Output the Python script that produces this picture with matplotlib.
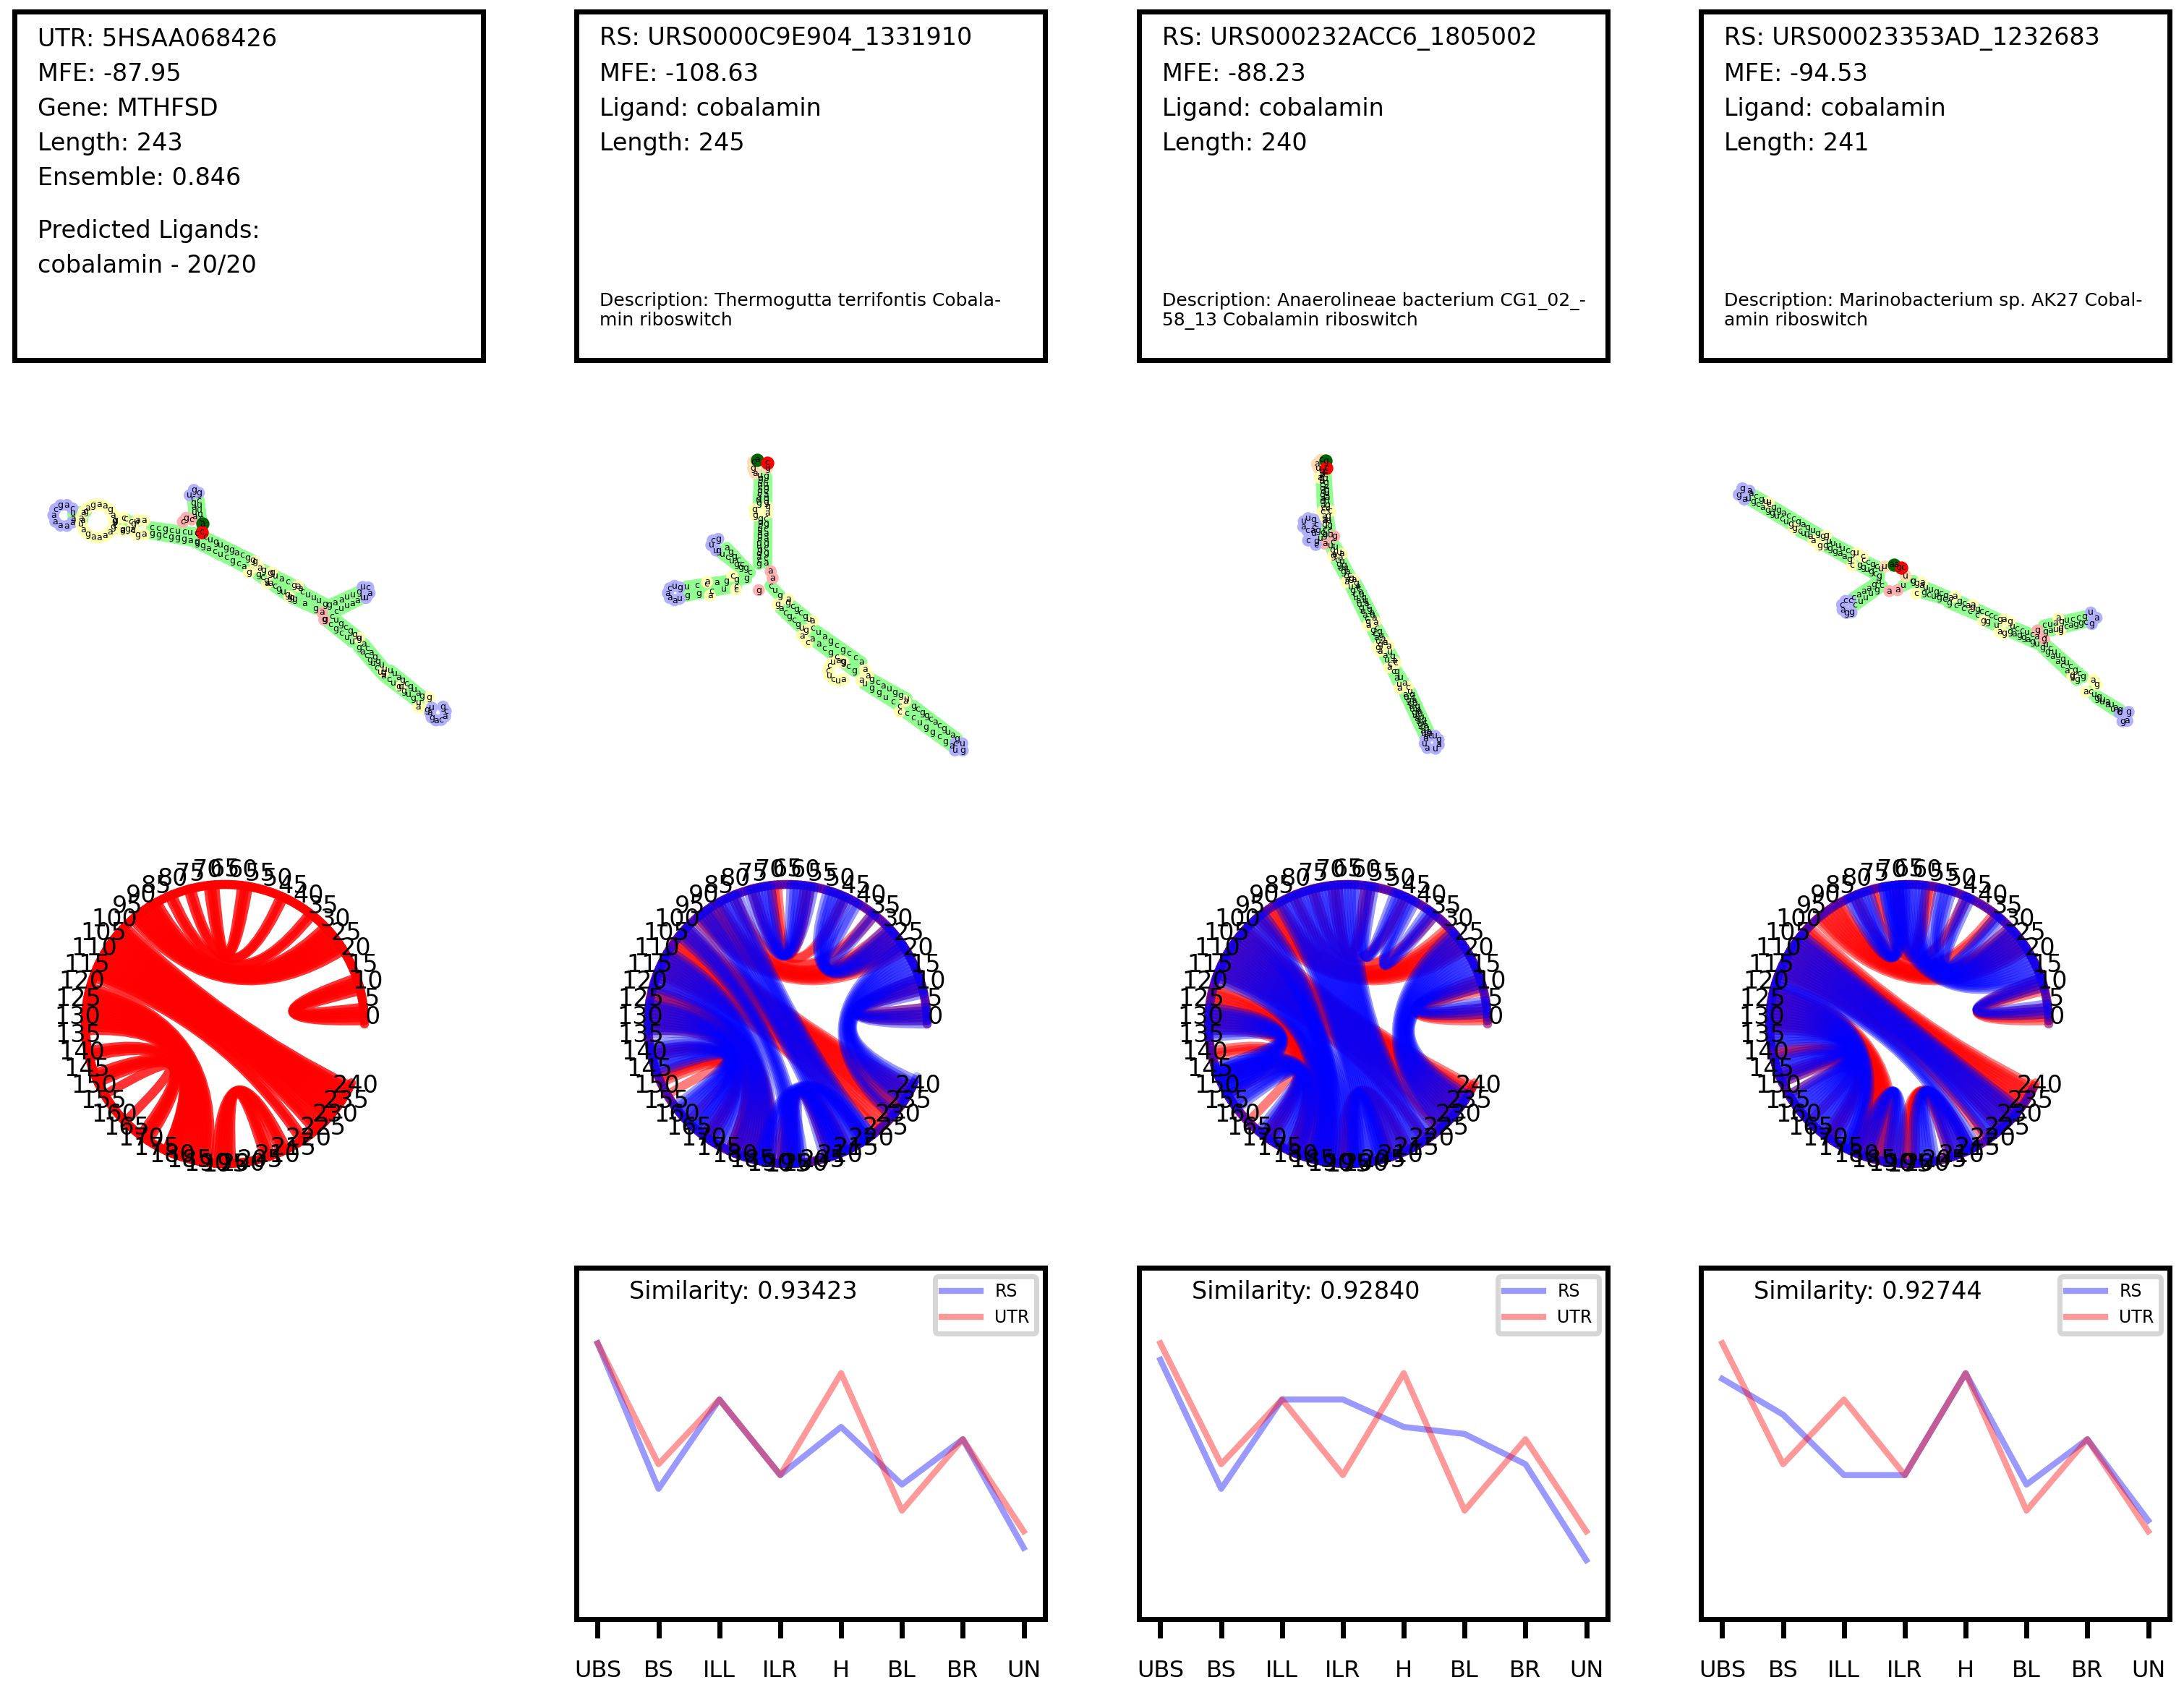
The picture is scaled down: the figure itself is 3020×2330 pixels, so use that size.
import numpy as np
import matplotlib
matplotlib.use("Agg")
import matplotlib.pyplot as plt
from matplotlib.path import Path
from matplotlib.patches import PathPatch

W, H = 3020, 2330
COL_X = [20, 797, 1575, 2352]
BOX_W = 648

# info boxes
info_lines = [
    ["UTR: 5HSAA068426", "MFE: -87.95", "Gene: MTHFSD", "Length: 243", "Ensemble: 0.846"],
    ["RS: URS0000C9E904_1331910", "MFE: -108.63", "Ligand: cobalamin", "Length: 245"],
    ["RS: URS000232ACC6_1805002", "MFE: -88.23", "Ligand: cobalamin", "Length: 240"],
    ["RS: URS00023353AD_1232683", "MFE: -94.53", "Ligand: cobalamin", "Length: 241"],
]
predicted = ["Predicted Ligands:", "cobalamin - 20/20"]
descriptions = [
    None,
    ["Description: Thermogutta terrifontis Cobala-", "min riboswitch"],
    ["Description: Anaerolineae bacterium CG1_02_-", "58_13 Cobalamin riboswitch"],
    ["Description: Marinobacterium sp. AK27 Cobal-", "amin riboswitch"],
]

# line panels
categories = ["UBS", "BS", "ILL", "ILR", "H", "BL", "BR", "UN"]
utr_profile = [0.785, 0.441, 0.625, 0.410, 0.700, 0.309, 0.512, 0.250]
rs_profile_1 = [0.785, 0.371, 0.625, 0.410, 0.547, 0.383, 0.512, 0.203]
rs_profile_2 = [0.738, 0.371, 0.625, 0.625, 0.547, 0.527, 0.441, 0.168]
rs_profile_3 = [0.684, 0.582, 0.410, 0.410, 0.700, 0.383, 0.512, 0.281]
similarity = ["0.93423", "0.92840", "0.92744"]

# base pair helices: (i, j, n) means i+k pairs with j-k
lengths = [243, 245, 240, 241]
circle_ticks = list(range(0, 241, 5))
utr_helices = [(1, 14, 5), (23, 95, 10), (37, 82, 2), (47, 76, 2), (58, 70, 3),
               (98, 241, 14), (112, 226, 3), (115, 220, 2),
               (119, 190, 7), (126, 183, 7), (138, 179, 3), (145, 171, 4), (152, 162, 1),
               (192, 214, 3), (195, 209, 3)]
rs1_helices = [(0, 14, 6), (14, 243, 9), (23, 232, 3), (25, 53, 8), (37, 44, 2),
               (57, 77, 8), (80, 222, 8), (89, 214, 6), (97, 200, 6), (107, 190, 14),
               (123, 175, 11), (136, 165, 10), (186, 222, 5), (192, 213, 8)]
rs2_helices = [(3, 15, 5), (16, 238, 10), (26, 228, 5), (37, 47, 4), (48, 60, 4),
               (62, 222, 14), (76, 208, 8), (84, 200, 4), (92, 191, 8), (100, 197, 18),
               (125, 152, 10), (143, 180, 15), (196, 207, 4)]
rs3_helices = [(3, 14, 4), (14, 73, 14), (28, 56, 5), (35, 48, 3), (66, 84, 8),
               (101, 233, 14), (115, 216, 4), (118, 178, 4), (122, 176, 16),
               (140, 160, 9), (178, 193, 7), (196, 214, 8)]

# structure drawings: strands and single beads in crop coordinates
# stem strand: (kind, x0, y0, x1, y1, letters); loop: (kind, cx, cy, r, a0, a1, letters)
crop_12 = (0, 560, 1500, 500, 1.037, 2.98)
struct_1_lines = [
    ("s", 105, 445, 123, 440, "ug"), ("s", 105, 470, 118, 475, "aa"),
    ("s", 165, 475, 180, 470, "gc"), ("s", 165, 497, 175, 515, "cg"),
    ("s", 187, 482, 196, 480, "cu"), ("s", 183, 510, 190, 515, "ga"),
    ("s", 218, 505, 282, 530, "ccgcucuc"), ("s", 218, 530, 282, 562, "ggcgggag"),
    ("s", 277, 385, 279, 460, "cgaua"), ("s", 285, 395, 288, 470, "cuuuc"),
    ("s", 294, 545, 362, 640, "cuguggacgg"), ("s", 282, 568, 350, 665, "ggacucgca"),
    ("s", 378, 680, 430, 755, "gguacga"), ("s", 370, 700, 418, 795, "gcgacgugg"),
    ("s", 433, 770, 466, 820, "cuuug"), ("s", 422, 800, 452, 838, "gag"),
    ("s", 472, 825, 515, 770, "gaauug"), ("s", 482, 850, 520, 795, "cuuaau"),
    ("s", 476, 872, 515, 960, "cugcggg"), ("s", 466, 885, 505, 975, "gcgcuu"),
    ("s", 522, 985, 552, 1090, "acagguu"), ("s", 515, 1000, 545, 1100, "gacgucu"),
    ("s", 560, 1095, 605, 1200, "uuagcguag"), ("s", 550, 1115, 600, 1225, "acuggugu"),
]
struct_1_beads = [
    ("i", 177, 465, "c"), ("i", 175, 517, "a"), ("i", 365, 645, "g"), ("i", 372, 672, "a"),
    ("i", 357, 690, "g"), ("i", 390, 690, "g"), ("i", 383, 735, "a"), ("i", 427, 745, "a"),
    ("i", 415, 790, "g"), ("i", 515, 960, "a"), ("i", 550, 1100, "g"), ("i", 575, 1160, "u"),
    ("i", 615, 1205, "g"), ("i", 600, 1245, "a"), ("i", 612, 1255, "g"),
    ("m", 267, 465, "g"), ("m", 262, 482, "c"), ("m", 275, 472, "c"),
    ("m", 462, 855, "a"), ("m", 465, 885, "g"),
    ("h", 272, 372, "u"), ("h", 278, 350, "g"), ("h", 285, 362, "g"),
    ("h", 520, 750, "u"), ("h", 528, 752, "c"), ("h", 530, 775, "a"), ("h", 525, 795, "u"),
]
struct_1_loops = [
    ("h", 92, 455, 15, 40, 320, "cagcaaaaa"),
    ("i", 140, 478, 23, 0, 360, "gagaagaaauagaaaaga"),
    ("i", 201, 505, 11, 60, 300, "aagcga"),
    ("h", 628, 1268, 11, 140, 410, "uagacacg"),
]
struct_1_start, struct_1_end = (290, 490, "a"), (289, 523, "c")

struct_2_lines = [
    ("s", 1090, 290, 1088, 405, "ugcucgcaug"), ("s", 1098, 295, 1098, 400, "gcugcagg"),
    ("s", 1090, 470, 1088, 655, "ggcuagcuugdacg"), ("s", 1098, 470, 1098, 650, "cgcaagcgca"),
    ("s", 1042, 590, 1075, 690, "aggccgc"), ("s", 1030, 600, 1062, 670, "gucugg"),
    ("s", 1070, 715, 985, 748, "gggaccu"), ("s", 1055, 748, 985, 785, "cucgg"),
    ("s", 1105, 745, 1118, 785, "cug"),
    ("s", 1130, 815, 1160, 885, "gcgcgu"), ("s", 1120, 840, 1150, 920, "acgcgu"),
    ("s", 1165, 920, 1235, 1060, "cuagcgcca"), ("s", 1165, 965, 1225, 1095, "aacgcgcg"),
    ("s", 1250, 1130, 1300, 1210, "gcauggu"), ("s", 1240, 1150, 1290, 1240, "uggucc"),
    ("s", 1310, 1240, 1372, 1375, "gcggcacguag"), ("s", 1300, 1270, 1365, 1405, "ccuggcga"),
]
struct_2_beads = [
    ("f", 1080, 235, "c"), ("f", 1080, 262, "g"), ("f", 1083, 282, "a"), ("f", 1100, 260, "g"),
    ("i", 1082, 430, "g"), ("i", 1083, 455, "g"), ("i", 1100, 420, "g"), ("i", 1100, 445, "a"),
    ("m", 1105, 685, "a"), ("m", 1108, 714, "a"), ("m", 1088, 763, "g"),
    ("h", 1030, 552, "g"), ("h", 1022, 558, "c"), ("h", 1020, 578, "u"), ("h", 1027, 600, "u"),
    ("i", 1130, 800, "a"), ("i", 1115, 820, "g"), ("i", 1014, 730, "a"), ("i", 1018, 785, "a"),
    ("i", 1050, 705, "c"), ("i", 1055, 760, "c"), ("i", 1165, 890, "a"),
    ("i", 1155, 928, "g"), ("i", 1150, 952, "a"), ("i", 1158, 980, "c"),
    ("i", 1240, 1090, "a"), ("i", 1245, 1115, "a"), ("i", 1235, 1135, "a"),
    ("i", 1298, 1220, "a"), ("i", 1290, 1265, "c"),
]
struct_2_loops = [
    ("h", 968, 775, 10, 50, 310, "gucaaau"),
    ("i", 1202, 1095, 14, 60, 300, "gauccucua"),
    ("h", 1375, 1410, 7, -40, 220, "gucu"),
]
struct_2_start, struct_2_end = (1086, 225, "a"), (1100, 238, "c")

crop_3 = (1760, 620, 300, 440, 3.0, 3.0)
struct_3_lines = [
    ("s", 202, 95, 208, 250, "gagucgcgauac"), ("s", 218, 95, 228, 250, "ccugcguaugc"),
    ("s", 212, 280, 215, 355, "aagca"), ("s", 228, 280, 240, 360, "gagcu"),
    ("s", 170, 330, 205, 350, "cgc"), ("s", 180, 385, 215, 360, "gug"),
    ("s", 248, 390, 275, 430, "cuu"), ("s", 240, 405, 255, 440, "uga"),
    ("s", 280, 455, 325, 540, "auguacg"), ("s", 265, 465, 310, 545, "cgugca"),
    ("s", 345, 560, 420, 705, "gacauguacgaua"), ("s", 325, 575, 395, 720, "ugcuauguacg"),
    ("s", 432, 745, 465, 805, "cguac"), ("s", 415, 755, 445, 815, "gcaug"),
    ("s", 485, 845, 505, 880, "uga"), ("s", 465, 860, 485, 895, "auc"),
    ("s", 515, 925, 545, 975, "gua"), ("s", 500, 925, 525, 980, "cau"),
    ("s", 570, 1010, 650, 1185, "ugcauguauugcauau"), ("s", 550, 1020, 632, 1195, "augcauguaagcaua"),
]
struct_3_beads = [
    ("f", 200, 48, "c"), ("f", 183, 65, "a"), ("f", 190, 84, "u"),
    ("i", 195, 122, "a"), ("i", 205, 262, "c"), ("i", 237, 260, "c"), ("i", 215, 295, "a"),
    ("m", 215, 395, "a"), ("m", 255, 365, "g"),
    ("i", 285, 438, "a"), ("i", 250, 445, "g"), ("i", 335, 545, "a"), ("i", 305, 555, "a"),
    ("i", 425, 720, "a"), ("i", 395, 735, "a"), ("i", 480, 820, "a"), ("i", 435, 825, "g"),
    ("i", 465, 805, "a"), ("i", 445, 840, "a"), ("i", 510, 890, "c"), ("i", 482, 908, "a"),
    ("i", 560, 990, "c"), ("i", 525, 995, "a"),
]
struct_3_loops = [
    ("h", 152, 316, 9, 0, 300, "cguuaca"),
    ("h", 170, 378, 8, 90, 290, "ucc"),
    ("h", 660, 1220, 10, -60, 230, "uagucaua"),
]
struct_3_start, struct_3_end = (220, 52, "g"), (222, 82, "c")

crop_4 = (2380, 660, 640, 360, 2.43, 3.0)
struct_4_lines = [
    ("s", 100, 68, 150, 102, "acgu"), ("s", 92, 90, 235, 195, "ugcaggucug"),
    ("s", 160, 112, 340, 245, "cggaccgagugg"), ("s", 265, 225, 300, 245, "cuua"),
    ("s", 362, 265, 440, 315, "uuuucg"), ("s", 350, 285, 430, 340, "gggaag"),
    ("s", 478, 345, 538, 380, "ccgcu"), ("s", 465, 365, 530, 410, "ggugcg"),
    ("s", 530, 432, 445, 500, "ugaaac"), ("s", 540, 450, 450, 530, "cguuuc"),
    ("s", 612, 450, 645, 430, "ug"), ("s", 640, 432, 770, 500, "cgauugcga"),
    ("s", 680, 480, 750, 505, "gcugc"), ("s", 765, 520, 860, 570, "gcccc"),
    ("s", 800, 515, 935, 590, "gcaggccccg"), ("s", 895, 600, 925, 615, "gu"),
    ("s", 978, 620, 1060, 660, "uccuca"), ("s", 970, 640, 1062, 690, "gaggagu"),
    ("s", 1085, 615, 1220, 578, "cuaguccg"), ("s", 1090, 640, 1225, 600, "gaugcaggc"),
    ("s", 1092, 695, 1215, 828, "ucuugucgcg"), ("s", 1080, 705, 1195, 840, "ggaacagg"),
    ("s", 1240, 890, 1340, 965, "cuguauag"), ("s", 1262, 915, 1335, 975, "guauc"),
]
struct_4_beads = [
    ("i", 160, 105, "u"), ("i", 245, 212, "g"), ("i", 352, 243, "g"), ("i", 310, 262, "a"),
    ("i", 332, 285, "g"), ("i", 455, 315, "u"), ("i", 475, 330, "c"), ("i", 440, 365, "c"),
    ("f", 550, 370, "u"), ("f", 620, 410, "u"),
    ("m", 565, 472, "a"), ("m", 593, 468, "a"), ("m", 1063, 635, "g"), ("m", 1085, 670, "g"),
    ("i", 675, 437, "a"), ("i", 655, 482, "c"), ("i", 785, 495, "a"), ("i", 845, 530, "a"),
    ("i", 880, 595, "g"), ("i", 950, 590, "a"), ("i", 970, 600, "g"),
    ("i", 935, 640, "a"), ("i", 950, 648, "g"), ("i", 1133, 585, "a"), ("i", 1140, 635, "g"),
    ("i", 1180, 825, "g"), ("i", 1250, 840, "a"), ("i", 1262, 860, "g"), ("i", 1225, 890, "a"),
]
struct_4_loops = [
    ("h", 78, 68, 8, 30, 270, "agga"),
    ("h", 427, 537, 9, 70, 300, "cccagg"),
    ("h", 1242, 585, 8, -80, 90, "gau"),
    ("h", 1355, 990, 8, -60, 250, "agcg"),
]
struct_4_start, struct_4_end = (580, 362, "aa"), (605, 375, "gc")

KIND_COLORS = {"s": "#90ff90", "i": "#ffffb0", "h": "#b0b0ff", "m": "#ffb0b0", "f": "#ffdcb0"}


def add_ax(x, y, w, h):
    return fig.add_axes([x / W, 1 - (y + h) / H, w / W, h / H])


def draw_structure(crop, lines, beads, loops, start, end):
    cx0, cy0, cw, ch, sx, sy = crop
    ax = add_ax(cx0, cy0, cw, ch)
    ax.patch.set_alpha(0)
    ax.set_xlim(0, cw * sx)
    ax.set_ylim(ch * sy, 0)
    ax.axis("off")
    xs, ys, cs, labels = [], [], [], []
    for kind, x0, y0, x1, y1, seq in lines:
        for t, ch_ in zip(np.linspace(0, 1, len(seq)), seq):
            xs.append(x0 + t * (x1 - x0))
            ys.append(y0 + t * (y1 - y0))
            cs.append(KIND_COLORS[kind])
            labels.append(ch_)
        # fill the strand so the band stays continuous
        ax.plot([x0, x1], [y0, y1], color=KIND_COLORS[kind], lw=6, solid_capstyle="round", zorder=1)
    for kind, x, y, seq in beads:
        xs.append(x)
        ys.append(y)
        cs.append(KIND_COLORS[kind])
        labels.append(seq)
    for kind, cx, cy, r, a0, a1, seq in loops:
        for a, ch_ in zip(np.radians(np.linspace(a0, a1, len(seq))), seq):
            xs.append(cx + r * sx * np.cos(a))
            ys.append(cy - r * sy * np.sin(a))
            cs.append(KIND_COLORS[kind])
            labels.append(ch_)
    ax.scatter(xs, ys, s=36, c=cs, linewidths=0, zorder=2)
    ax.scatter([start[0]], [start[1]], s=44, c="darkgreen", linewidths=0, zorder=3)
    ax.scatter([end[0]], [end[1]], s=44, c="red", linewidths=0, zorder=3)
    for x, y, s in zip(xs + [start[0], end[0]], ys + [start[1], end[1]], labels + [start[2], end[2]]):
        ax.text(x, y, s, fontsize=4.5, ha="center", va="center", color="black", zorder=4)


def draw_chords(ax, helices, n, color, alpha, ring_alpha):
    pos = lambda i: (np.cos(i * 2 * np.pi / 260), np.sin(i * 2 * np.pi / 260))
    for i in range(n - 1):
        ax.plot(*zip(pos(i), pos(i + 1)), color=color, alpha=ring_alpha, lw=4.5, solid_capstyle="round", zorder=2)
    for a, b, k in helices:
        for m in range(k):
            path = Path([pos(a + m), (0, 0), pos(b - m)], [Path.MOVETO, Path.CURVE3, Path.CURVE3])
            ax.add_patch(PathPatch(path, fc="none", ec=color, lw=4.5, alpha=alpha, capstyle="round", zorder=2))


fig = plt.figure(figsize=(W / 200, H / 200), dpi=200)

# row 1
for c in range(4):
    ax = add_ax(COL_X[c], 16, BOX_W, 482)
    ax.set_xlim(COL_X[c], COL_X[c] + BOX_W)
    ax.set_ylim(498, 16)
    ax.set_xticks([])
    ax.set_yticks([])
    for sp in ax.spines.values():
        sp.set_linewidth(2.5)
    for k, line in enumerate(info_lines[c]):
        ax.text(COL_X[c] + 32, 54 + k * 48.2, line, fontsize=12, va="center")
    if c == 0:
        ax.text(COL_X[c] + 32, 319, predicted[0], fontsize=12, va="center")
        ax.text(COL_X[c] + 32, 367, predicted[1], fontsize=12, va="center")
    else:
        ax.text(COL_X[c] + 32, 416, descriptions[c][0], fontsize=9, va="center")
        ax.text(COL_X[c] + 32, 443, descriptions[c][1], fontsize=9, va="center")

# row 2
draw_structure(crop_12, struct_1_lines, struct_1_beads, struct_1_loops, struct_1_start, struct_1_end)
draw_structure(crop_12, struct_2_lines, struct_2_beads, struct_2_loops, struct_2_start, struct_2_end)
draw_structure(crop_3, struct_3_lines, struct_3_beads, struct_3_loops, struct_3_start, struct_3_end)
draw_structure(crop_4, struct_4_lines, struct_4_beads, struct_4_loops, struct_4_start, struct_4_end)

# row 3
centers = [311, 1089, 1864, 2640]
rs_helices = [None, rs1_helices, rs2_helices, rs3_helices]
R = 193
for c in range(4):
    ax = add_ax(centers[c] - 330, 1416 - 270, 660, 540)
    ax.set_xlim(-330 / R, 330 / R)
    ax.set_ylim(-270 / R, 270 / R)
    ax.axis("off")
    if c == 0:
        draw_chords(ax, utr_helices, lengths[0], "red", 0.8, 0.8)
    else:
        draw_chords(ax, utr_helices, lengths[0], "red", 0.5, 0.5)
        draw_chords(ax, rs_helices[c], lengths[c], "blue", 0.4, 0.28)
    for i in circle_ticks:
        a = i * 2 * np.pi / 260
        ax.text(1.057 * np.cos(a), 1.057 * np.sin(a), str(i), fontsize=12, ha="center", va="baseline", zorder=5)

# row 4
rs_profiles = [rs_profile_1, rs_profile_2, rs_profile_3]
for c in range(1, 4):
    ax = add_ax(COL_X[c], 1753, BOX_W, 486)
    x = np.arange(len(categories))
    ax.plot(x, rs_profiles[c - 1], color="blue", lw=3, alpha=0.4, label="RS")
    ax.plot(x, utr_profile, color="red", lw=3, alpha=0.4, label="UTR")
    ax.set_ylim(0, 1)
    ax.set_yticks([])
    ax.set_xticks(x)
    ax.set_xticklabels(categories, fontsize=11.5)
    ax.tick_params(axis="x", length=9.3, width=2.5, pad=11)
    for sp in ax.spines.values():
        sp.set_linewidth(2.5)
    ax.text(0.112, 0.932, "Similarity: " + similarity[c - 1], transform=ax.transAxes, fontsize=12, va="center")
    leg = ax.legend(loc="upper right", fontsize=8.5, handlelength=2.3)
    leg.get_frame().set_linewidth(2.5)

fig.savefig("out.png", dpi=200)
